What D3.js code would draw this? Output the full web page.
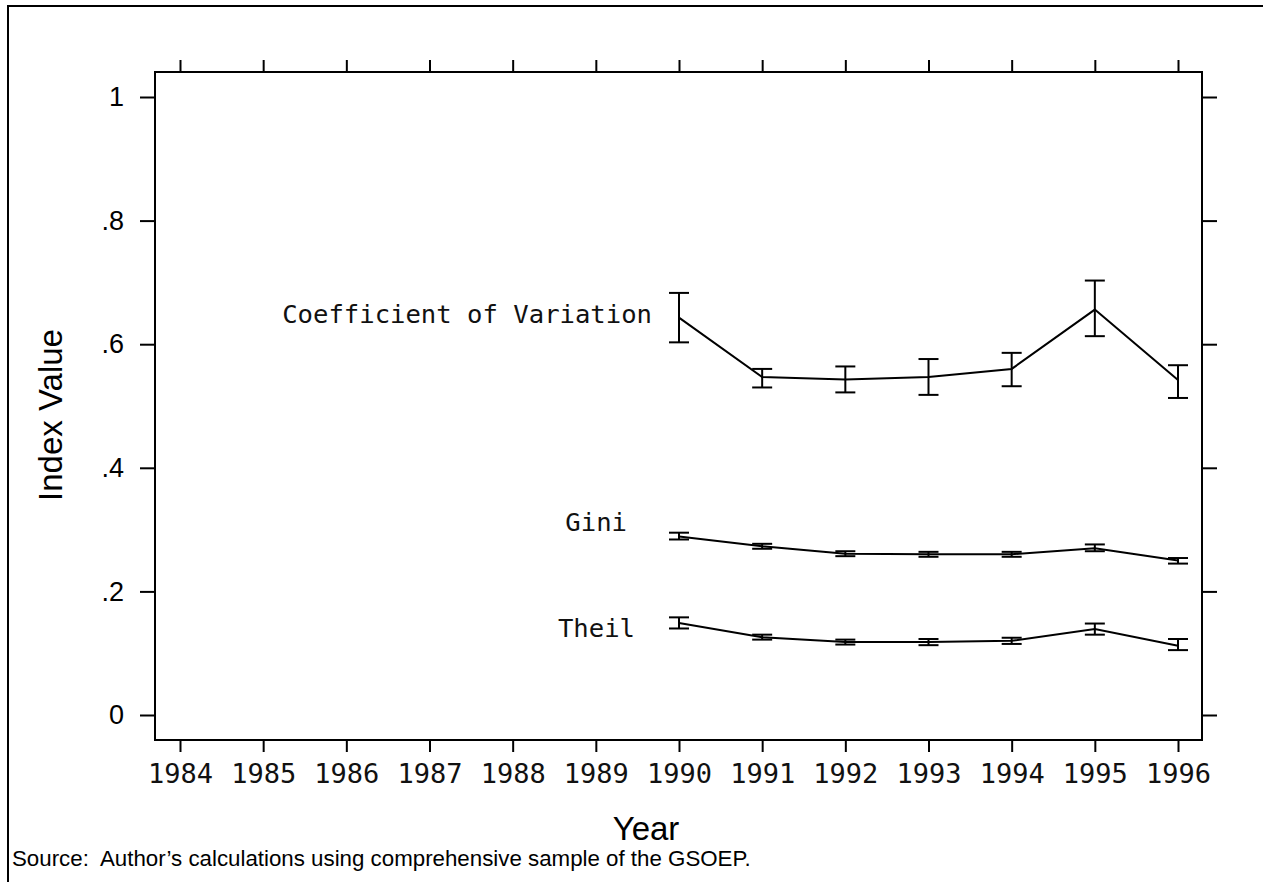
<!DOCTYPE html>
<html>
<head>
<meta charset="utf-8">
<script src="https://cdn.jsdelivr.net/npm/d3@7"></script>
<style>
  body { margin: 0; background: #fff; }
  svg { display: block; }
</style>
</head>
<body>
<svg id="chart"></svg>
<script>
// years on the axis and years with data
const axisYears = [1984, 1985, 1986, 1987, 1988, 1989, 1990, 1991, 1992, 1993, 1994, 1995, 1996];
const dataYears = [1990, 1991, 1992, 1993, 1994, 1995, 1996];
const yTicks = [0, 0.2, 0.4, 0.6, 0.8, 1];

// point estimates with lower / upper confidence bounds
const cvValue = [0.643, 0.547, 0.543, 0.547, 0.560, 0.656, 0.542];
const cvLow   = [0.603, 0.530, 0.522, 0.518, 0.532, 0.613, 0.513];
const cvHigh  = [0.683, 0.560, 0.564, 0.576, 0.586, 0.703, 0.566];

const giniValue = [0.289, 0.273, 0.261, 0.260, 0.260, 0.270, 0.250];
const giniLow   = [0.284, 0.269, 0.257, 0.256, 0.256, 0.265, 0.245];
const giniHigh  = [0.295, 0.277, 0.265, 0.264, 0.264, 0.276, 0.254];

const theilValue = [0.149, 0.126, 0.118, 0.118, 0.120, 0.139, 0.112];
const theilLow   = [0.140, 0.122, 0.114, 0.113, 0.115, 0.130, 0.105];
const theilHigh  = [0.158, 0.130, 0.122, 0.123, 0.125, 0.148, 0.123];

const seriesNames = ["Coefficient of Variation", "Gini", "Theil"];

const width = 1263, height = 882;
const boxL = 155, boxR = 1202, boxT = 72, boxB = 740;
const mono = "DejaVu Sans Mono, monospace";
const sans = "Liberation Sans, Arial, Helvetica, sans-serif";

const svg = d3.select("#chart").attr("width", width).attr("height", height);

// page frame (top and left edges)
svg.append("path")
    .attr("d", `M8,${height} L8,6 L${width},6`)
    .attr("fill", "none").attr("stroke", "#000").attr("stroke-width", 2);

const x = d3.scaleLinear().domain([1984, 1996]).range([180, 1178]);
const y = d3.scaleLinear().domain([0, 1]).range([715, 97]);

// plot box
svg.append("rect")
    .attr("x", boxL).attr("y", boxT)
    .attr("width", boxR - boxL).attr("height", boxB - boxT)
    .attr("fill", "none").attr("stroke", "#000").attr("stroke-width", 2);

const fmtY = d => d === 0 ? "0" : d === 1 ? "1" : d3.format(".1f")(d).replace(/^0/, "");

// bottom axis
svg.append("g")
    .attr("transform", `translate(0,${boxB})`)
    .call(d3.axisBottom(x).tickValues(axisYears).tickFormat(d3.format("d")).tickSize(12).tickPadding(12))
    .call(g => g.select(".domain").remove())
    .call(g => g.selectAll(".tick line").attr("stroke-width", 2))
    .call(g => g.selectAll("text").attr("font-family", mono).attr("font-size", 27).attr("fill", "#111"));

// top axis, ticks only
svg.append("g")
    .attr("transform", `translate(0,${boxT})`)
    .call(d3.axisTop(x).tickValues(axisYears).tickFormat("").tickSize(12))
    .call(g => g.select(".domain").remove())
    .call(g => g.selectAll(".tick line").attr("stroke-width", 2));

// left axis
svg.append("g")
    .attr("transform", `translate(${boxL},0)`)
    .call(d3.axisLeft(y).tickValues(yTicks).tickFormat(fmtY).tickSize(15).tickPadding(16))
    .call(g => g.select(".domain").remove())
    .call(g => g.selectAll(".tick line").attr("stroke-width", 2))
    .call(g => g.selectAll("text").attr("font-family", sans).attr("font-size", 27).attr("fill", "#000"));

// right axis, ticks only
svg.append("g")
    .attr("transform", `translate(${boxR},0)`)
    .call(d3.axisRight(y).tickValues(yTicks).tickFormat("").tickSize(15))
    .call(g => g.select(".domain").remove())
    .call(g => g.selectAll(".tick line").attr("stroke-width", 2));

// series
const series = [
  { name: seriesNames[0], v: cvValue, lo: cvLow, hi: cvHigh, dx: -27, dy: 5 },
  { name: seriesNames[1], v: giniValue, lo: giniLow, hi: giniHigh, dx: -52, dy: -5 },
  { name: seriesNames[2], v: theilValue, lo: theilLow, hi: theilHigh, dx: -44, dy: 14 }
];

const line = d3.line().x(d => x(d[0])).y(d => y(d[1]));

series.forEach(s => {
  const g = svg.append("g").attr("stroke", "#000").attr("fill", "none").attr("stroke-width", 2);
  g.append("path").attr("d", line(dataYears.map((yr, i) => [yr, s.v[i]])));
  dataYears.forEach((yr, i) => {
    const cx = x(yr);
    g.append("line").attr("x1", cx).attr("x2", cx).attr("y1", y(s.lo[i])).attr("y2", y(s.hi[i]));
    g.append("line").attr("x1", cx - 10).attr("x2", cx + 10).attr("y1", y(s.lo[i])).attr("y2", y(s.lo[i]));
    g.append("line").attr("x1", cx - 10).attr("x2", cx + 10).attr("y1", y(s.hi[i])).attr("y2", y(s.hi[i]));
  });
  svg.append("text")
      .attr("x", x(dataYears[0]) + s.dx)
      .attr("y", y(s.v[0]) + s.dy)
      .attr("text-anchor", "end")
      .attr("font-family", mono).attr("font-size", 25.6).attr("fill", "#111")
      .text(s.name);
});

// axis titles
svg.append("text")
    .attr("transform", `translate(62,415) rotate(-90)`)
    .attr("text-anchor", "middle")
    .attr("font-family", sans).attr("font-size", 33)
    .text("Index Value");

svg.append("text")
    .attr("x", 646).attr("y", 840)
    .attr("text-anchor", "middle")
    .attr("font-family", sans).attr("font-size", 33)
    .text("Year");

svg.append("text")
    .attr("x", 12).attr("y", 866)
    .style("white-space", "pre")
    .attr("font-family", sans).attr("font-size", 22.3)
    .text("Source:  Author\u2019s calculations using comprehensive sample of the GSOEP.");
</script>
</body>
</html>
